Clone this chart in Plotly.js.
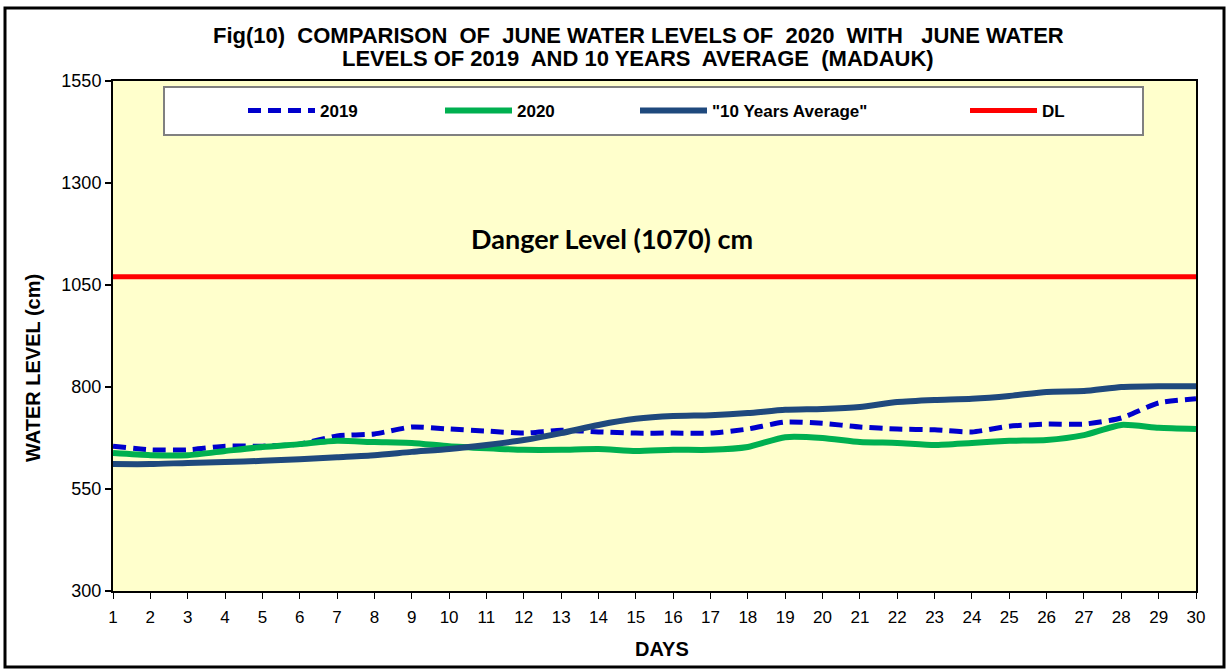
<!DOCTYPE html>
<html>
<head>
<meta charset="utf-8">
<script src="https://cdn.plot.ly/plotly-3.0.1.min.js"></script>
<style>html,body{margin:0;padding:0;background:#fff}#chart{width:1227px;height:669px}</style>
</head>
<body>
<div id="chart"></div>
<script>
var days = [1,2,3,4,5,6,7,8,9,10,11,12,13,14,15,16,17,18,19,20,21,22,23,24,25,26,27,28,29,30];
var wl2019 = [655,646,646,655,655,660,680,685,702,697,692,687,694,690,687,687,687,697,714,711,702,697,695,690,704,709,709,724,761,771];
var wl2020 = [638,633,633,643,653,660,668,665,663,655,650,646,646,648,643,646,646,653,677,675,665,663,658,663,668,670,682,707,700,697];
var avg10 = [611,611,614,616,619,623,628,633,641,648,658,670,687,707,722,729,731,736,744,746,751,763,768,771,778,788,790,800,802,802];
var dangerLevel = 1070;
var dl = days.map(function(){return dangerLevel;});
var seriesNames = ['2019','2020','"10 Years Average"','DL'];
var yTicks = [300,550,800,1050,1300,1550];

var traces = [
  {x: days, y: wl2019, name: seriesNames[0], mode: 'lines', line: {color: '#0000CC', width: 5, dash: '13px,7px', shape: 'spline', smoothing: 0.6}, legend: 'legend'},
  {x: days, y: wl2020, name: seriesNames[1], mode: 'lines', line: {color: '#00B050', width: 6, shape: 'spline', smoothing: 0.6}, legend: 'legend2'},
  {x: days, y: avg10, name: seriesNames[2], mode: 'lines', line: {color: '#1F497D', width: 6, shape: 'spline', smoothing: 0.6}, legend: 'legend3'},
  {x: days, y: dl, name: seriesNames[3], mode: 'lines', line: {color: '#FF0000', width: 5}, legend: 'legend4'}
];
function px2x(p){return (p-113)/1083;}
function py2y(p){return (591-p)/510;}
var AR = 'Arial, Liberation Sans, sans-serif';
var legFont = {family: AR, size: 17, color: '#000', weight: 'bold'};
function leg(xp){return {x: px2x(xp), xanchor: 'left', y: py2y(111), yanchor: 'middle', bgcolor: 'rgba(0,0,0,0)', borderwidth: 0, font: legFont, orientation: 'h', itemwidth: 67};}
function ann(text, x, y, size, extra){
  var a = {text: text, xref: 'paper', yref: 'paper', x: px2x(x), y: py2y(y), xanchor: 'center', yanchor: 'middle', showarrow: false,
           font: {family: AR, size: size, color: '#000'}};
  for (var k in (extra||{})) a[k] = extra[k];
  return a;
}

var layout = {
  width: 1227, height: 669,
  margin: {l: 113, r: 31, t: 81, b: 78},
  paper_bgcolor: '#FFFFFF',
  plot_bgcolor: '#FFFFCC',
  showlegend: true,
  xaxis: {
    range: [1, 30], tickvals: days, ticktext: days.map(String),
    showline: true, linecolor: '#000', linewidth: 2, mirror: true,
    ticks: 'outside', ticklen: 6, tickcolor: '#000', tickwidth: 1,
    showgrid: false, zeroline: false, ticklabelstandoff: 4,
    tickfont: {family: AR, size: 17, color: '#000'}
  },
  yaxis: {
    range: [300, 1550], tickvals: yTicks,
    showline: true, linecolor: '#000', linewidth: 2, mirror: true,
    ticks: 'outside', ticklen: 6, tickcolor: '#000', tickwidth: 2,
    showgrid: false, zeroline: false,
    tickfont: {family: AR, size: 18, color: '#000'}
  },
  legend: leg(243),
  legend2: leg(440),
  legend3: leg(635),
  legend4: leg(965),
  shapes: [
    {type: 'rect', xref: 'paper', yref: 'paper', x0: px2x(5), x1: px2x(1224), y0: py2y(667), y1: py2y(8), line: {color: '#000', width: 3}, fillcolor: 'rgba(0,0,0,0)', layer: 'below'},
    {type: 'rect', xref: 'paper', yref: 'paper', x0: px2x(164), x1: px2x(1143), y0: py2y(135), y1: py2y(87), line: {color: '#808080', width: 2}, fillcolor: '#FFFFFF', layer: 'below'}
  ],
  annotations: [
    ann('<b>Fig(10)  COMPARISON  OF  JUNE WATER LEVELS OF  2020  WITH   JUNE WATER</b>', 638, 35, 22),
    ann('<b>LEVELS OF 2019  AND 10 YEARS  AVERAGE  (MADAUK)</b>', 638, 59, 22),
    {text: '<b>Danger Level (1070) cm</b>', xref: 'paper', yref: 'y', x: px2x(612), y: 1163, xanchor: 'center', yanchor: 'middle', showarrow: false,
     font: {family: 'Lato, Open Sans, sans-serif', size: 27, color: '#000'}},
    ann('<b>WATER LEVEL (cm)</b>', 33, 368, 20, {textangle: -90}),
    ann('<b>DAYS</b>', 662, 649, 20)
  ]
};
Plotly.newPlot('chart', traces, layout, {displayModeBar: false, staticPlot: true});
</script>
</body>
</html>
